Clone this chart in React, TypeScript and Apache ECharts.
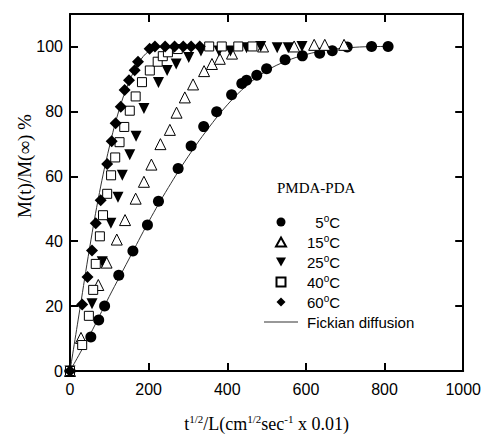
import React, { useEffect, useRef } from "react";
import * as echarts from "echarts";

// 5°C (filled circles)
const x5 = [0, 53, 73, 88, 124, 160, 197, 225, 275, 308, 340, 373, 411, 437, 449, 475, 500, 547, 591, 635, 667, 705, 767, 809];
const y5 = [0, 10.5, 15.7, 20, 29.5, 37, 45, 52.3, 62.4, 69.3, 75.3, 79.9, 85.1, 88.6, 89.6, 91.1, 93.1, 95.9, 97.1, 97.9, 98.7, 99.8, 100, 100];
// 15°C (open triangles)
const x15 = [0, 28, 72, 93, 119, 140, 167, 188, 207, 230, 254, 271, 292, 313, 341, 361, 381, 412, 491, 570, 621, 648, 697];
const y15 = [0, 10.2, 26.5, 33.4, 40.5, 46.5, 53.1, 58.3, 63.6, 69.9, 74.3, 79.6, 84.3, 88.3, 92.4, 94.6, 96.2, 97.8, 100, 100, 100.5, 100.5, 100.5];
// 25°C (filled inverted triangles)
const x25 = [0, 56, 82, 104, 122, 133, 152, 168, 188, 225, 247, 270, 302, 333, 379, 408, 449, 485, 527, 555, 590];
const y25 = [0, 20.7, 33.7, 45.5, 53.5, 60.3, 66.6, 72.3, 80.9, 88.9, 92.6, 94.6, 96.6, 98.6, 98.6, 98.6, 99.6, 100, 99.6, 99.6, 100];
// 40°C (open squares)
const x40 = [0, 31, 48, 59, 65.5, 76, 84, 94.5, 104.5, 115, 126, 138, 152, 167, 183, 203, 223, 236, 249, 274, 354, 386, 428, 464];
const y40 = [0, 8, 17, 25, 33, 41.5, 48, 54.6, 60.3, 65.8, 70.5, 75.2, 80.2, 84.6, 89, 92.6, 95.3, 97, 98.2, 99.2, 100, 100, 100, 100];
// 60°C (filled diamonds)
const x60 = [0, 31, 44.5, 56, 65.5, 78, 94.5, 106, 116, 129, 139, 150, 164.5, 173, 202.5, 216, 242, 266, 288, 308, 330];
const y60 = [0, 20.5, 29, 37.1, 45.5, 52.6, 63.8, 70.8, 76.3, 81.4, 86.6, 89.6, 92.7, 95.3, 99.3, 100, 100, 100, 100, 100, 100];
// Fickian diffusion curves
const fick5X = [0, 50, 100, 150, 200, 250, 300, 350, 400, 450, 500, 550, 600, 650, 700, 750, 810];
const fick5Y = [0, 11, 23, 34.5, 46, 56.5, 66, 74.5, 82, 88, 92.5, 95.5, 97.5, 98.8, 99.5, 99.9, 100];
const fick60X = [0, 25, 50, 75, 100, 125, 150, 175, 200, 225, 250];
const fick60Y = [0, 19, 38, 55, 69, 80.5, 89, 95, 98.5, 99.7, 100];

const xMin = 0, xMax = 1000, xStep = 200;
const yMin = 0, yMax = 110, yStep = 20;

const zip = (xs: number[], ys: number[]) => xs.map((x, i) => [x, ys[i]]);

const SERIF = "'Liberation Serif', 'Times New Roman', serif";
const SANS = "'Liberation Sans', Arial, sans-serif";

const ICON_CIRCLE = "path://M5,0 A5,5 0 1,1 5,10 A5,5 0 1,1 5,0 Z";
const ICON_TRI = "path://M5,0 L10,9 L0,9 Z";
const ICON_ITRI = "path://M0,0 L10,0 L5,9 Z";
const ICON_SQ = "path://M0,0 L10,0 L10,10 L0,10 Z";
const ICON_DIA = "path://M5,0 L10,5 L5,10 L0,5 Z";
const ICON_LINE = "path://M0,0 L34,0 L34,1 L0,1 Z";

export default function App() {
  const ref = useRef<HTMLDivElement>(null);
  useEffect(() => {
    if (!ref.current) return;
    const chart = echarts.init(ref.current, null, { renderer: "svg" });
    const axisLine = { show: true, onZero: false, lineStyle: { color: "#000", width: 2 } };
    const axisTick = { show: true, inside: true, length: 8, lineStyle: { color: "#000", width: 2 } };
    const open = { color: "#fff", borderColor: "#000", borderWidth: 1, opacity: 1 };
    const filled = { color: "#000", opacity: 1 };
    const fickLine = { color: "#333", width: 1 };
    chart.setOption({
      animation: false,
      backgroundColor: "#fff",
      grid: { left: 70, right: 20, top: 14, bottom: 58, containLabel: false },
      xAxis: [
        {
          type: "value", min: xMin, max: xMax, interval: xStep, position: "bottom",
          axisLine, axisTick, splitLine: { show: false },
          axisLabel: { color: "#000", fontFamily: SANS, fontSize: 16, margin: 10, formatter: (v: number) => String(v) },
          name: "{n|t}{s|1/2}{n|/L(cm}{s|1/2}{n|sec}{s|-1}{n| x 0.01)}",
          nameLocation: "middle", nameGap: 42,
          nameTextStyle: {
            color: "#000", fontFamily: SERIF, fontSize: 18,
            rich: {
              n: { fontFamily: SERIF, fontSize: 18, lineHeight: 22, color: "#000" },
              s: { fontFamily: SERIF, fontSize: 11, lineHeight: 11, verticalAlign: "top", color: "#000" },
            },
          },
        },
        {
          type: "value", min: xMin, max: xMax, interval: xStep, position: "top",
          axisLine, axisTick, splitLine: { show: false }, axisLabel: { show: false },
        },
      ],
      yAxis: [
        {
          type: "value", min: yMin, max: yMax, interval: yStep, position: "left",
          axisLine, axisTick, splitLine: { show: false },
          axisLabel: {
            color: "#000", fontFamily: SANS, fontSize: 16, margin: 7,
            formatter: (v: number) => (v % 20 === 0 && v <= 100 ? String(v) : ""),
          },
        },
        {
          type: "value", min: yMin, max: yMax, interval: yStep, position: "right",
          axisLine, axisTick, splitLine: { show: false }, axisLabel: { show: false },
        },
      ],
      legend: {
        orient: "vertical", left: 264, top: 213, padding: 0,
        itemWidth: 34, itemHeight: 9, itemGap: 2,
        symbolRotate: 0,
        data: [
          { name: "5°C", icon: ICON_CIRCLE },
          { name: "15°C", icon: ICON_TRI },
          { name: "25°C", icon: ICON_ITRI },
          { name: "40°C", icon: ICON_SQ },
          { name: "60°C", icon: ICON_DIA },
          { name: "Fickian diffusion", icon: ICON_LINE },
        ],
        formatter: (name: string) => {
          const m = name.match(/^(\d+)°C$/);
          if (m) return (m[1].length === 1 ? "  " : "") + m[1] + "{sup|o}C";
          return name;
        },
        textStyle: {
          color: "#000", fontFamily: SANS, fontSize: 15, lineHeight: 18,
          padding: [0, 0, 0, 4],
          rich: {
            sup: { fontFamily: SANS, fontSize: 10, lineHeight: 10, verticalAlign: "top", color: "#000" },
          },
        },
      },
      graphic: [
        {
          type: "text", x: 24, y: 166, rotation: Math.PI / 2,
          style: { text: "M(t)/M(∞) %", font: `19px ${SERIF}`, fill: "#000", align: "center", verticalAlign: "middle" },
        },
        {
          type: "text", x: 277, y: 188,
          style: { text: "PMDA-PDA", font: `15px ${SERIF}`, fill: "#000", align: "left", verticalAlign: "middle" },
        },
      ],
      series: [
        { name: "Fickian diffusion", type: "line", data: zip(fick5X, fick5Y), smooth: 0.4, symbol: "none", showSymbol: false, itemStyle: { color: "#333" }, lineStyle: fickLine, z: 1 },
        { name: "Fickian diffusion", type: "line", data: zip(fick60X, fick60Y), smooth: 0.4, symbol: "none", showSymbol: false, itemStyle: { color: "#333" }, lineStyle: fickLine, z: 1 },
        { name: "5°C", type: "scatter", data: zip(x5, y5), symbol: "circle", symbolSize: 11, itemStyle: filled, z: 3 },
        { name: "15°C", type: "scatter", data: zip(x15, y15), symbol: "triangle", symbolSize: 11, itemStyle: open, z: 3 },
        { name: "25°C", type: "scatter", data: zip(x25, y25), symbol: "triangle", symbolRotate: 180, symbolSize: 11, itemStyle: filled, z: 3 },
        { name: "40°C", type: "scatter", data: zip(x40, y40), symbol: "rect", symbolSize: 9, itemStyle: open, z: 3 },
        { name: "60°C", type: "scatter", data: zip(x60, y60), symbol: "diamond", symbolSize: 12, itemStyle: filled, z: 4 },
      ],
    });
    return () => chart.dispose();
  }, []);
  return <div ref={ref} style={{ position: "fixed", left: 0, top: 0, width: 484, height: 438 }} />;
}
